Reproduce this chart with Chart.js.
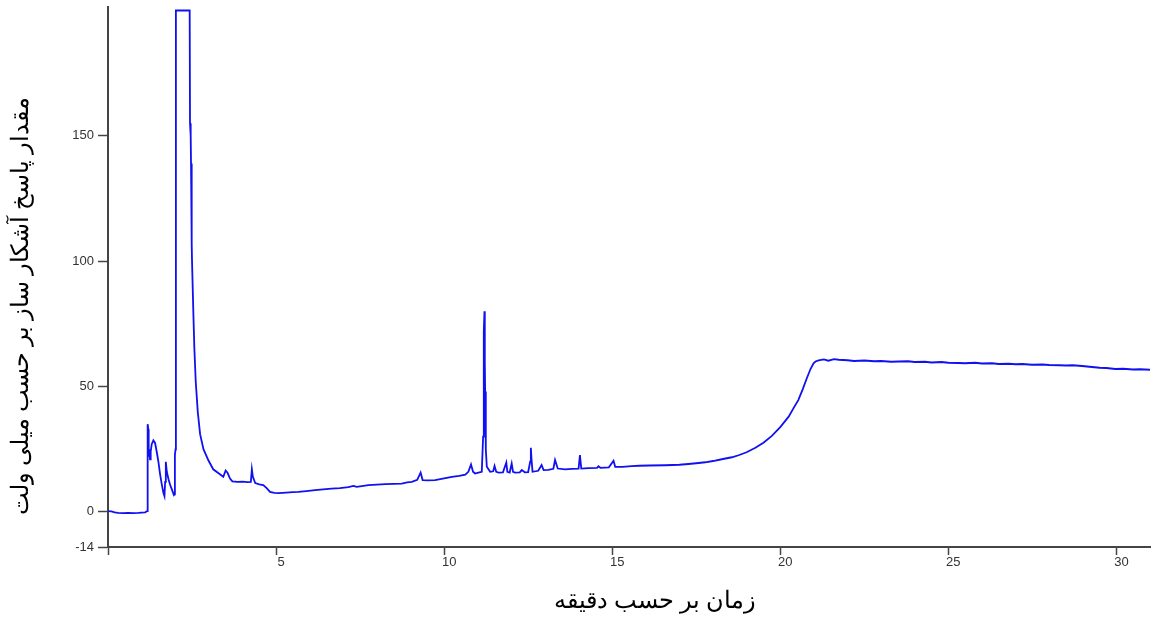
<!DOCTYPE html>
<html>
<head>
<meta charset="utf-8">
<script src="https://cdn.jsdelivr.net/npm/chart.js@4.4.1/dist/chart.umd.min.js"></script>
<style>
  html, body { margin: 0; padding: 0; background: #fff; }
  #wrap { width: 1152px; height: 630px; position: relative; }
</style>
</head>
<body>
<div id="wrap"><canvas id="chromGraph"></canvas></div>
<script>
var timeMin = [
  0.00, 0.10, 0.20, 0.30, 0.45, 0.60, 0.75, 0.90, 1.00, 1.10, 1.15, 1.17,
  1.18, 1.20, 1.21, 1.23, 1.25, 1.27, 1.30, 1.35, 1.40, 1.45, 1.50, 1.55,
  1.60, 1.65, 1.68, 1.70, 1.72, 1.75, 1.80, 1.85, 1.90, 1.96, 1.98, 1.99,
  2.01, 2.02, 2.43, 2.44, 2.46, 2.47, 2.49, 2.50, 2.54, 2.57, 2.61, 2.67,
  2.74, 2.84, 2.99, 3.13, 3.33, 3.43, 3.50, 3.56, 3.63, 3.70, 3.85, 4.00,
  4.15, 4.25, 4.28, 4.31, 4.38, 4.50, 4.62, 4.72, 4.82, 4.95, 5.07, 5.30,
  5.50, 5.66, 5.90, 6.16, 6.40, 6.65, 6.90, 7.15, 7.30, 7.40, 7.75, 8.00,
  8.25, 8.50, 8.74, 8.90, 9.04, 9.20, 9.30, 9.36, 9.50, 9.73, 10.00, 10.23,
  10.45, 10.63, 10.72, 10.80, 10.86, 10.92, 11.05, 11.12, 11.16, 11.18, 11.20, 11.21,
  11.22, 11.24, 11.27, 11.37, 11.46, 11.50, 11.55, 11.62, 11.75, 11.85, 11.88, 11.95,
  12.01, 12.05, 12.11, 12.25, 12.31, 12.40, 12.50, 12.56, 12.58, 12.60, 12.63, 12.80,
  12.90, 12.96, 13.10, 13.25, 13.30, 13.38, 13.60, 13.80, 14.00, 14.04, 14.08, 14.30,
  14.55, 14.59, 14.65, 14.90, 15.04, 15.09, 15.30, 15.58, 15.80, 16.10, 16.58, 17.00,
  17.27, 17.57, 17.77, 18.00, 18.26, 18.56, 18.76, 19.00, 19.26, 19.50, 19.75, 20.00,
  20.25, 20.40, 20.54, 20.67, 20.79, 20.90, 20.99, 21.05, 21.14, 21.30, 21.43, 21.60,
  21.74, 22.00, 22.20, 22.50, 22.80, 23.00, 23.30, 23.52, 23.80, 24.00, 24.30, 24.50,
  24.80, 25.00, 25.30, 25.50, 25.80, 26.00, 26.30, 26.50, 26.80, 27.00, 27.20, 27.49,
  27.80, 28.00, 28.30, 28.50, 28.70, 28.98, 29.20, 29.50, 29.70, 29.97, 30.20, 30.50,
  30.70, 31.00
];

var signalMv = [
  0.3, 0.2, -0.2, -0.4, -0.5, -0.4, -0.5, -0.4, -0.3, -0.2, 0.2, 0.3,
  35, 33, 22, 25, 21, 24, 27, 28.5, 27.5, 24, 20, 15,
  11, 7.5, 6.3, 12, 20, 16, 13, 10.7, 9, 6.7, 7, 22.7,
  25, 200, 200, 155, 150, 139, 107, 100, 79, 65, 52, 40,
  31, 25, 20.5, 17, 15, 14, 16.5, 15.5, 13.3, 12.2, 12, 12.1,
  11.9, 12, 17, 14, 11.5, 11, 10.7, 9.5, 8, 7.6, 7.5, 7.7,
  7.9, 8, 8.3, 8.7, 9, 9.3, 9.5, 9.9, 10.4, 10, 10.7, 10.9,
  11.1, 11.2, 11.3, 11.8, 12, 12.8, 15.7, 12.7, 12.6, 12.7, 13.4, 14,
  14.4, 14.9, 16, 18.9, 16, 15.3, 15.8, 16, 30, 72, 80, 60,
  48, 25, 18, 16, 16.2, 18.3, 16, 15.7, 15.8, 19.7, 16, 15.7,
  19.3, 16, 15.7, 15.8, 16.7, 15.8, 15.9, 20, 25.6, 21, 16, 16.4,
  18.7, 16.7, 16.8, 17.2, 20.7, 17.3, 17, 17.2, 17.3, 22.7, 17.3, 17.5,
  17.6, 18.2, 17.6, 17.8, 20.4, 18, 18, 18.3, 18.4, 18.5, 18.6, 18.8,
  19.1, 19.5, 19.8, 20.3, 21, 21.8, 22.6, 23.8, 25.6, 27.6, 30.3, 33.8,
  38, 41.5, 44.7, 49, 53.3, 57, 59.3, 60, 60.4, 60.8, 60.3, 60.9,
  60.7, 60.5, 60.2, 60.4, 60.1, 60.2, 59.9, 60, 60.1, 59.8, 59.9, 59.6,
  59.8, 59.5, 59.4, 59.3, 59.5, 59.2, 59.3, 59, 59.1, 58.9, 59, 58.7,
  58.8, 58.6, 58.5, 58.4, 58.5, 58.2, 57.9, 57.5, 57.4, 57, 57.1, 56.8,
  56.9, 56.7
];

var xTickLabels = [5, 10, 15, 20, 25, 30];
var yTickLabels = [-14, 0, 50, 100, 150];

var yTitle = 'مقدار پاسخ آشکار ساز بر حسب میلی ولت';
var xTitle = 'زمان بر حسب دقیقه';

function init() {
  drawChromGraph();
}

// punti {x,y} per il grafico
function getPoints() {
  var points = [];
  for (var i = 0; i < timeMin.length; i++) {
    points.push({ x: timeMin[i], y: signalMv[i] });
  }
  return points;
}

// titoli degli assi in persiano
var axisTitles = {
  id: 'axisTitles',
  afterDraw: function(chart) {
    var ctx = chart.ctx;
    var area = chart.chartArea;
    ctx.save();
    ctx.fillStyle = '#000';
    ctx.font = '24px "Times New Roman", "Liberation Serif", serif';
    ctx.textAlign = 'center';
    ctx.textBaseline = 'middle';
    ctx.direction = 'rtl';
    ctx.fillText(xTitle, (area.left + area.right) / 2 + 26, 602);
    ctx.translate(22, 306);
    ctx.rotate(-Math.PI / 2);
    ctx.fillText(yTitle, 0, 0);
    ctx.restore();
  }
};

function drawChromGraph() {
  var ctx = document.getElementById('chromGraph');
  var myChart = new Chart(ctx, {
    type: 'line',
    data: {
      datasets: [{
        data: getPoints(),
        borderColor: '#1010f0',
        borderWidth: 1.8,
        pointRadius: 0,
        tension: 0,
        fill: false
      }]
    },
    options: {
      responsive: true,
      maintainAspectRatio: false,
      animation: false,
      layout: { padding: { top: 7, right: 2, left: 0, bottom: 0 } },
      plugins: {
        legend: { display: false },
        tooltip: { enabled: false }
      },
      scales: {
        x: {
          type: 'linear',
          min: 0,
          max: 31,
          afterBuildTicks: function(scale) {
            scale.ticks = [0].concat(xTickLabels).map(function(v) { return { value: v }; });
          },
          afterFit: function(scale) {
            scale.height = 83;
            scale.paddingLeft = 0;
            scale.paddingRight = 0;
          },
          grid: { drawOnChartArea: false, drawTicks: true, tickLength: 8, color: '#444', tickWidth: 1.5 },
          border: { display: true, color: '#444', width: 2 },
          ticks: {
            autoSkip: false,
            maxRotation: 0,
            padding: 0,
            labelOffset: 5,
            color: '#333',
            font: { family: 'Arial, "Liberation Sans", sans-serif', size: 13 },
            callback: function(v) { return v === 0 ? '' : v; }
          }
        },
        y: {
          min: -14,
          max: 201.4,
          afterBuildTicks: function(scale) {
            scale.ticks = yTickLabels.map(function(v) { return { value: v }; });
          },
          afterFit: function(scale) {
            scale.width = 108;
            scale.paddingTop = 0;
            scale.paddingBottom = 0;
          },
          grid: { drawOnChartArea: false, drawTicks: true, tickLength: 10, color: '#444', tickWidth: 1.5 },
          border: { display: true, color: '#444', width: 2 },
          ticks: {
            autoSkip: false,
            padding: 4,
            color: '#333',
            font: { family: 'Arial, "Liberation Sans", sans-serif', size: 13 }
          }
        }
      }
    },
    plugins: [axisTitles]
  });
}

init();
</script>
</body>
</html>
